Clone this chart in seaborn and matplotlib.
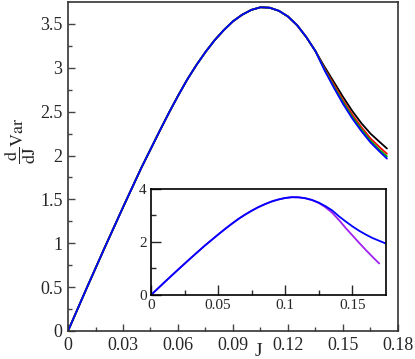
import numpy as np
import pandas as pd
import matplotlib
matplotlib.use('Agg')
import matplotlib.pyplot as plt
import seaborn as sns

# main panel: common rising part (all curves coincide here)
J_common = [0.0, 0.01, 0.02, 0.03, 0.04, 0.05, 0.055, 0.06, 0.065, 0.07, 0.075,
            0.08, 0.085, 0.09, 0.095, 0.1, 0.105, 0.11, 0.115, 0.12, 0.125,
            0.13, 0.135]
v_common = [0.0, 0.48, 0.95, 1.41, 1.86, 2.28, 2.485, 2.68, 2.865, 3.03, 3.18,
            3.315, 3.43, 3.53, 3.605, 3.66, 3.69, 3.685, 3.65, 3.585, 3.485,
            3.35, 3.19]

# main panel: tails that split apart
J_tail = [0.14, 0.145, 0.15, 0.155, 0.16, 0.165, 0.17, 0.174]
tail_black = [3.01, 2.84, 2.67, 2.51, 2.37, 2.25, 2.155, 2.08]
tail_red = [2.99, 2.81, 2.63, 2.47, 2.325, 2.195, 2.095, 2.02]
tail_green = [2.98, 2.79, 2.61, 2.445, 2.30, 2.17, 2.065, 1.99]
tail_blue = [2.97, 2.775, 2.59, 2.425, 2.28, 2.15, 2.045, 1.965]

# inset
J_inset_blue_end = [0.175]
v_inset_blue_end = [1.94]
J_magenta = [0.0, 0.01, 0.02, 0.03, 0.04, 0.05, 0.055, 0.06, 0.065, 0.07, 0.075,
             0.08, 0.085, 0.09, 0.095, 0.1, 0.105, 0.11, 0.115, 0.12, 0.125,
             0.13, 0.135, 0.14, 0.145, 0.15, 0.155, 0.16, 0.165, 0.17]
v_magenta = [0.0, 0.48, 0.95, 1.41, 1.86, 2.28, 2.485, 2.68, 2.865, 3.03, 3.18,
             3.315, 3.43, 3.53, 3.605, 3.66, 3.69, 3.685, 3.65, 3.58, 3.47,
             3.31, 3.10, 2.83, 2.53, 2.25, 1.97, 1.70, 1.44, 1.19]

rows = []
for name, tail in [('black', tail_black), ('red', tail_red),
                   ('green', tail_green), ('blue', tail_blue)]:
    for j, v in zip(J_common + J_tail, v_common + tail):
        rows.append({'J': j, 'val': v, 'curve': name})
main_df = pd.DataFrame(rows)

inset_rows = []
for j, v in zip(J_magenta, v_magenta):
    inset_rows.append({'J': j, 'val': v, 'curve': 'magenta'})
for j, v in zip(J_common + J_tail[:-1] + J_inset_blue_end,
                v_common + tail_blue[:-1] + v_inset_blue_end):
    inset_rows.append({'J': j, 'val': v, 'curve': 'blue'})
inset_df = pd.DataFrame(inset_rows)

sns.set_style('ticks')
serif = ['Liberation Serif', 'DejaVu Serif']
plt.rcParams['font.family'] = serif
plt.rcParams['mathtext.fontset'] = 'stix'

colors = {'black': 'black', 'red': 'red', 'green': '#00b000',
          'blue': 'blue', 'magenta': '#a020f0'}

fig = plt.figure(figsize=(4.15, 3.59), dpi=100)
ax = fig.add_axes([0.1639, 0.078, 0.795, 0.9164])
sns.lineplot(data=main_df, x='J', y='val', hue='curve', palette=colors,
             hue_order=['black', 'red', 'green', 'blue'],
             lw=1.3, legend=False, ax=ax, estimator=None, sort=False)
ax.set_xlim(0, 0.18)
ax.set_ylim(0, 3.75)
ax.set_xticks([0, 0.03, 0.06, 0.09, 0.12, 0.15, 0.18])
ax.set_xticklabels(['0', '0.03', '0.06', '0.09', '0.12', '0.15', '0.18'])
ax.set_yticks([0, 0.5, 1, 1.5, 2, 2.5, 3, 3.5])
ax.set_yticklabels(['0', '0.5', '1', '1.5', '2', '2.5', '3', '3.5'])
ax.set_xticks(np.arange(0.015, 0.18, 0.03), minor=True)
ax.set_yticks(np.arange(0.25, 3.75, 0.5), minor=True)
ax.tick_params(which='both', direction='in', labelsize=13, color='#444444')
ax.tick_params(which='major', length=5, width=1)
ax.tick_params(which='minor', length=3, width=1)
ax.tick_params(axis='x', pad=4)
ax.tick_params(axis='y', pad=4)
for lbl in ax.get_xticklabels() + ax.get_yticklabels():
    lbl.set_family(serif)
for s in ax.spines.values():
    s.set_linewidth(1.2)
    s.set_color('#333333')
ax.set_xlabel('J', fontsize=14, family=serif)
ax.xaxis.set_label_coords(0.576, -0.035)
ax.set_ylabel(r'$\dfrac{\mathrm{d}}{\mathrm{dJ}}\mathrm{Var}$', fontsize=13)
ax.yaxis.set_label_coords(-0.09, 0.58)

ins = fig.add_axes([0.3639, 0.1783, 0.566, 0.2953])
sns.lineplot(data=inset_df, x='J', y='val', hue='curve', palette=colors,
             hue_order=['magenta', 'blue'],
             lw=1.3, legend=False, ax=ins, estimator=None, sort=False)
ins.set_xlim(0, 0.175)
ins.set_ylim(0, 4)
ins.set_xticks([0, 0.05, 0.1, 0.15])
ins.set_xticklabels(['0', '0.05', '0.1', '0.15'])
ins.set_yticks([0, 2, 4])
ins.set_yticklabels(['0', '2', '4'])
ins.set_xticks([0.025, 0.075, 0.125], minor=True)
ins.set_yticks([1, 3], minor=True)
ins.tick_params(which='both', direction='in', labelsize=11)
ins.tick_params(which='major', length=7, width=1)
ins.tick_params(which='minor', length=3.5, width=1)
ins.tick_params(axis='y', pad=3)
ins.tick_params(axis='x', pad=3)
for lbl in ins.get_xticklabels() + ins.get_yticklabels():
    lbl.set_family(serif)
for s in ins.spines.values():
    s.set_linewidth(1.2)
    s.set_color('black')
ins.set_xlabel('')
ins.set_ylabel('')

fig.savefig('out.png', dpi=100)
